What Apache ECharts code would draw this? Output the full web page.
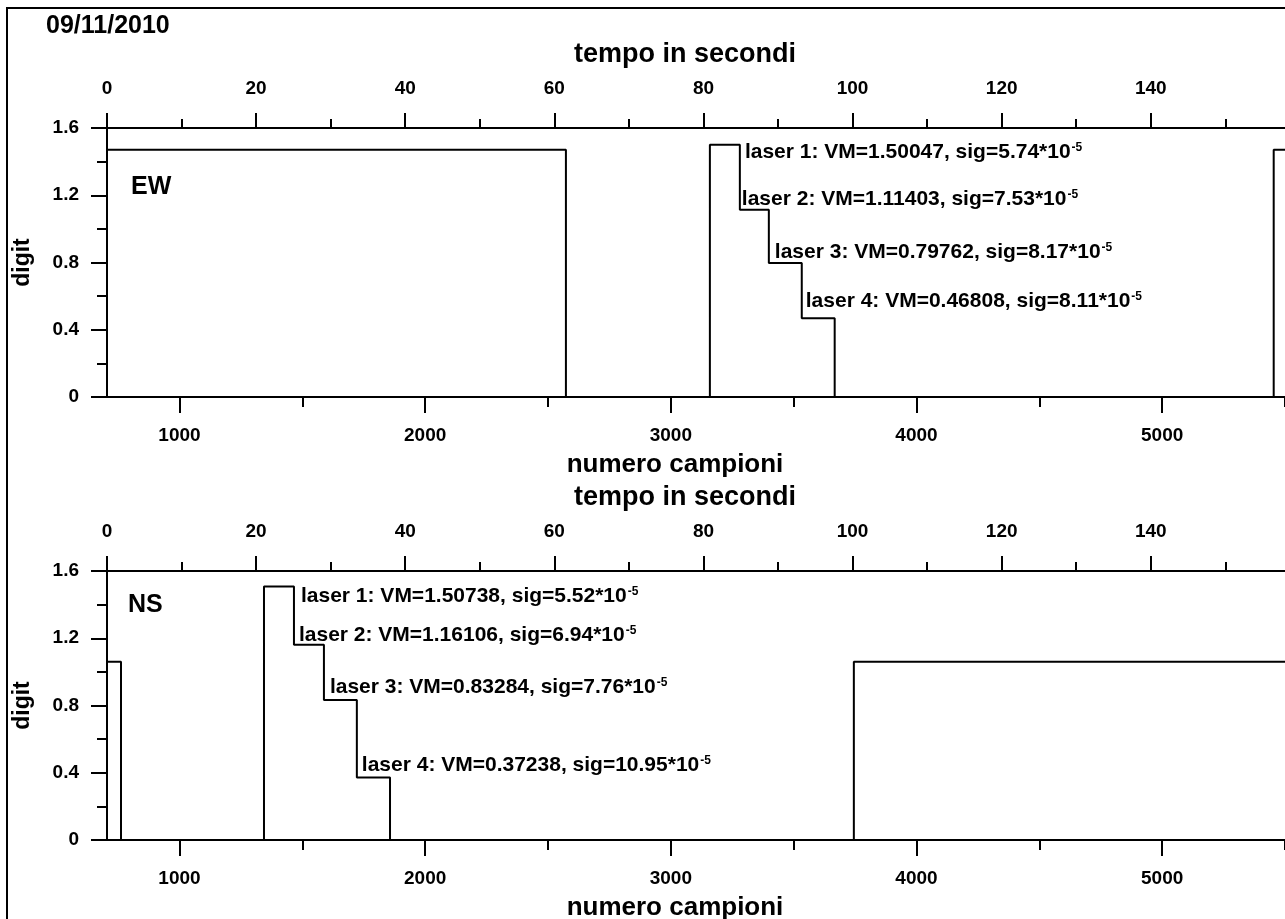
<!DOCTYPE html>
<html><head><meta charset="utf-8">
<script src="https://cdn.jsdelivr.net/npm/echarts@6/dist/echarts.min.js"></script>
<style>html,body{margin:0;padding:0;background:#fff}#c{width:1285px;height:919px}</style>
</head><body><div id="c"></div>
<script>
// ---------------- data ----------------
const dateLabel = '09/11/2010';
const panelNames = ['EW', 'NS'];
const sampleRange = [705, 5500];
const timeRange = [0, 158];
const yRange = [0, 1.6];
const sampleMajorTicks = [1000, 2000, 3000, 4000, 5000];
const sampleMinorTicks = [1500, 2500, 3500, 4500, 5500];
const timeMajorTicks = [0, 20, 40, 60, 80, 100, 120, 140];
const timeMinorTicks = [10, 30, 50, 70, 90, 110, 130, 150];
// step signals: level y[i] holds from x[i] to x[i+1]
const ewX = [705, 2573, 3159, 3281, 3399, 3533, 3667, 5454, 5500];
const ewY = [1.47, 0, 1.50047, 1.11403, 0.79762, 0.46808, 0, 1.47, 1.47];
const nsX = [705, 762, 1344, 1466, 1588, 1722, 1857, 3745, 5500];
const nsY = [1.06, 0, 1.50738, 1.16106, 0.83284, 0.37238, 0, 1.06, 1.06];
const ewVM = ['1.50047', '1.11403', '0.79762', '0.46808'];
const ewSig = ['5.74', '7.53', '8.17', '8.11'];
const nsVM = ['1.50738', '1.16106', '0.83284', '0.37238'];
const nsSig = ['5.52', '6.94', '7.76', '10.95'];
const laserStepIndex = [2, 3, 4, 5];

// ---------------- styling ----------------
const FONT = '"Liberation Sans", Arial, Helvetica, sans-serif';
const BLACK = '#000';
const ewLabelOffsets = [[36, 8], [3, -10], [7, -10], [5, -16]];
const nsLabelOffsets = [[38, 11], [6, -9], [7, -12], [6, -11]];
const gridTops = [128, 571];
const gridHeight = 269;
const lineSt = { color: BLACK, width: 2 };
const tickFont = { color: BLACK, fontSize: 19, fontWeight: 'bold', fontFamily: FONT };
const nameFont = { color: BLACK, fontSize: 26, fontWeight: 'bold', fontFamily: FONT };
const plain = v => String(v);

function xAxesFor(g) {
  return [
    { type: 'value', gridIndex: g, position: 'bottom', min: sampleRange[0], max: sampleRange[1],
      axisLine: { show: true, onZero: false, lineStyle: lineSt },
      axisTick: { show: true, customValues: sampleMajorTicks, length: 16, lineStyle: lineSt },
      axisLabel: { show: true, customValues: sampleMajorTicks, margin: 29, formatter: plain, ...tickFont },
      splitLine: { show: false },
      name: 'numero campioni', nameLocation: 'middle', nameGap: 55,
      nameTextStyle: { ...nameFont, padding: [0, 42, 0, 0] } },
    { type: 'value', gridIndex: g, position: 'bottom', min: sampleRange[0], max: sampleRange[1],
      axisLine: { show: false, onZero: false },
      axisTick: { show: true, customValues: sampleMinorTicks, length: 10, lineStyle: lineSt },
      axisLabel: { show: false }, splitLine: { show: false } },
    { type: 'value', gridIndex: g, position: 'top', min: timeRange[0], max: timeRange[1],
      axisLine: { show: true, onZero: false, lineStyle: lineSt },
      axisTick: { show: true, customValues: timeMajorTicks, length: 15, lineStyle: lineSt },
      axisLabel: { show: true, customValues: timeMajorTicks, margin: 30, formatter: plain, ...tickFont },
      splitLine: { show: false },
      name: 'tempo in secondi', nameLocation: 'middle', nameGap: 60,
      nameTextStyle: { ...nameFont, fontSize: 27, padding: [0, 22, 0, 0] } },
    { type: 'value', gridIndex: g, position: 'top', min: timeRange[0], max: timeRange[1],
      axisLine: { show: false, onZero: false },
      axisTick: { show: true, customValues: timeMinorTicks, length: 9, lineStyle: lineSt },
      axisLabel: { show: false }, splitLine: { show: false } }
  ];
}
function yAxisFor(g) {
  return { type: 'value', gridIndex: g, position: 'left', min: yRange[0], max: yRange[1], interval: 0.4,
    axisLine: { show: true, onZero: false, lineStyle: lineSt },
    axisTick: { show: true, length: 16, lineStyle: lineSt },
    minorTick: { show: true, splitNumber: 2, length: 10, lineStyle: lineSt },
    axisLabel: { margin: 28, ...tickFont, formatter: v => (v === 0 ? '0' : v.toFixed(1)) },
    splitLine: { show: false },
    name: 'digit', nameLocation: 'middle', nameGap: 73,
    nameTextStyle: { ...nameFont, fontSize: 23 } };
}

function stepSeries(xs, ys, xi, yi) {
  return { type: 'line', xAxisIndex: xi, yAxisIndex: yi, step: 'end', showSymbol: false, symbol: 'none',
    lineStyle: { color: BLACK, width: 2 }, silent: true, animation: false,
    data: xs.map((x, i) => [x, ys[i]]) };
}
function labelSeries(xs, ys, vms, sigs, offs, xi, yi) {
  return { type: 'scatter', xAxisIndex: xi, yAxisIndex: yi, symbol: 'circle', symbolSize: 2, silent: true, animation: false,
    itemStyle: { color: 'rgba(0,0,0,0)' },
    z: 5,
    data: laserStepIndex.map((si, k) => ({
      value: [xs[si], ys[si]],
      label: {
        show: true, position: offs[k], align: 'left', verticalAlign: 'middle',
        formatter: 'laser ' + (k + 1) + ': VM=' + vms[k] + ', sig=' + sigs[k] + '*10{sup|-5}',
        color: BLACK, fontSize: 21, fontWeight: 'bold', fontFamily: FONT, opacity: 1,
        rich: { sup: { fontSize: 12, fontWeight: 'bold', fontFamily: FONT, color: BLACK, verticalAlign: 'top', padding: [0, 0, 0, 1] } }
      }
    }))
  };
}

const option = {
  backgroundColor: '#fff',
  animation: false,
  grid: gridTops.map(t => ({ left: 107, right: 0, top: t, height: gridHeight, containLabel: false, outerBoundsMode: 'none' })),
  xAxis: [...xAxesFor(0), ...xAxesFor(1)],
  yAxis: [yAxisFor(0), yAxisFor(1)],
  series: [
    stepSeries(ewX, ewY, 0, 0),
    stepSeries(nsX, nsY, 4, 1),
    labelSeries(ewX, ewY, ewVM, ewSig, ewLabelOffsets, 0, 0),
    labelSeries(nsX, nsY, nsVM, nsSig, nsLabelOffsets, 4, 1)
  ],
  graphic: [
    { type: 'rect', shape: { x: 7, y: 8, width: 1400, height: 1000 }, style: { fill: 'none', stroke: BLACK, lineWidth: 2 }, silent: true },
    { type: 'text', x: 46, y: 26, style: { text: dateLabel, fill: BLACK, font: 'bold 25px ' + FONT, verticalAlign: 'middle' } },
    { type: 'text', x: 131, y: 187, style: { text: panelNames[0], fill: BLACK, font: 'bold 25px ' + FONT, verticalAlign: 'middle' } },
    { type: 'text', x: 128, y: 605, style: { text: panelNames[1], fill: BLACK, font: 'bold 25px ' + FONT, verticalAlign: 'middle' } }
  ]
};
const chart = echarts.init(document.getElementById('c'));
chart.setOption(option);
</script></body></html>
